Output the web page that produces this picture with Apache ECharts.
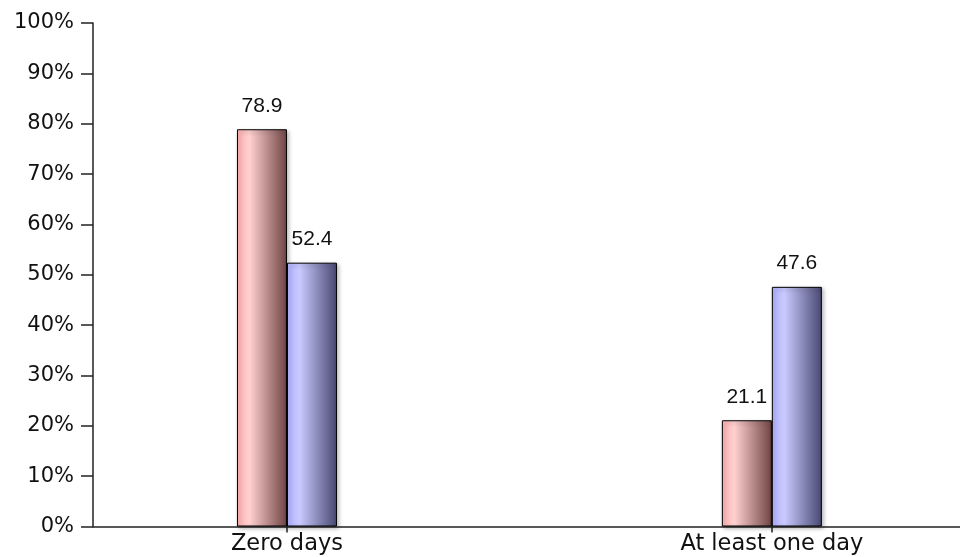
<!DOCTYPE html>
<html>
<head>
<meta charset="utf-8">
<script src="https://cdn.jsdelivr.net/npm/echarts@6/dist/echarts.min.js"></script>
<style>html,body{margin:0;padding:0;background:#fff}#c{width:960px;height:557px}</style>
</head>
<body>
<div id="c"></div>
<script>
var categories = ['Zero days', 'At least one day'];
var seriesA = [78.9, 21.1];
var seriesB = [52.4, 47.6];
var yTicks = [0, 10, 20, 30, 40, 50, 60, 70, 80, 90, 100];

var chart = echarts.init(document.getElementById('c'), null, {renderer: 'canvas'});

function grad(c0, c1, c2) {
  return new echarts.graphic.LinearGradient(0, 0, 1, 0, [
    {offset: 0, color: c0}, {offset: 0.25, color: c1}, {offset: 1, color: c2}
  ]);
}

function mk(vals, color, name) {
  return {
    name: name,
    type: 'bar',
    barWidth: 50,
    barGap: '0%',
    data: vals.map(function (v, i) { return [i, v]; }),
    itemStyle: {
      color: color,
      borderColor: '#000',
      borderWidth: 1,
      shadowColor: 'rgba(0,0,0,0.3)',
      shadowBlur: 4,
      shadowOffsetX: 2,
      shadowOffsetY: 2
    },
    label: {
      show: true,
      position: 'top',
      distance: 13,
      fontFamily: 'Liberation Sans',
      fontSize: 21,
      color: '#111',
      formatter: function (p) { return p.value[1].toFixed(1); }
    }
  };
}

chart.setOption({
  animation: false,
  grid: {left: 93, right: 0, top: 23, bottom: 30.5},
  xAxis: {
    type: 'value',
    min: -0.4,
    max: 1.388,
    splitLine: {show: false},
    axisLine: {show: true, onZero: false, lineStyle: {color: '#222', width: 1.5}},
    axisTick: {show: true, customValues: [0, 1], length: 6, lineStyle: {color: '#222', width: 1.5}},
    axisLabel: {
      customValues: [0, 1],
      margin: 6,
      fontFamily: 'DejaVu Sans',
      fontSize: 22.5,
      color: '#111',
      formatter: function (v) { return categories[Math.round(v)]; }
    }
  },
  yAxis: {
    type: 'value',
    min: yTicks[0],
    max: yTicks[yTicks.length - 1],
    interval: 10,
    splitLine: {show: false},
    axisLine: {show: true, onZero: false, lineStyle: {color: '#222', width: 1.5}},
    axisTick: {show: true, length: 12, lineStyle: {color: '#222', width: 1.5}},
    axisLabel: {
      margin: 19,
      fontFamily: 'DejaVu Sans',
      fontSize: 21,
      color: '#111',
      formatter: function (v) { return v + '%'; }
    }
  },
  series: [
    mk(seriesA, grad('#ffb0b0', '#ffd0d0', '#704444'), 'A'),
    mk(seriesB, grad('#b0b0ff', '#cacaff', '#484872'), 'B')
  ]
});
</script>
</body>
</html>
